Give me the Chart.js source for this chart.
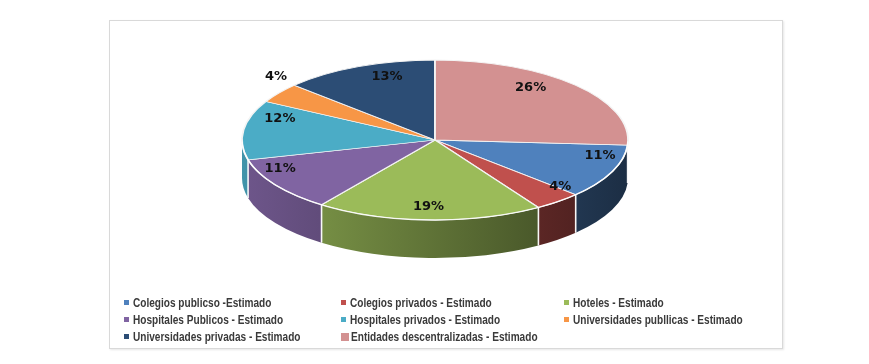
<!DOCTYPE html>
<html><head><meta charset="utf-8">
<script src="https://cdn.jsdelivr.net/npm/chart.js@4"></script>
<style>
html,body{margin:0;padding:0;background:#fff;width:869px;height:364px;overflow:hidden}
#frame{position:absolute;left:109px;top:20px;width:672px;height:327px;border:1px solid #d9d9d9;box-shadow:1px 1px 2px rgba(0,0,0,0.10);background:#fff}
#c{position:absolute;left:0;top:0}
#legend{position:absolute;left:0;top:0;font-family:"Liberation Sans",Arial,sans-serif;font-weight:bold;font-size:12px;color:#3a3a3a}
.item{position:absolute;white-space:nowrap;line-height:14px;height:14px}
.mk{display:inline-block;width:5px;height:5px;margin-right:4px;vertical-align:2px}
.mk.big{width:8px;height:8px;margin-right:2px;vertical-align:0px}
.tx{display:inline-block;transform:scaleX(0.84);transform-origin:0 50%}
</style></head>
<body>
<div id="frame"></div>
<canvas id="c" width="869" height="364"></canvas>
<div id="legend"></div>
<script>
// ---- data ----
const categories = [
  "Colegios publicso -Estimado",
  "Colegios privados - Estimado",
  "Hoteles - Estimado",
  "Hospitales Publicos - Estimado",
  "Hospitales privados - Estimado",
  "Universidades publlicas - Estimado",
  "Universidades privadas - Estimado",
  "Entidades descentralizadas - Estimado"
];
const percentages = [11, 4, 19, 11, 12, 4, 13, 26];
const colors = ["#4f81bd", "#c0504d", "#9bbb59", "#8064a2", "#4bacc6", "#f79646", "#2c4d75", "#d39191"];

// ---- geometry / style ----
const geom = {cx: 435, cy: 140, rx: 193, ry: 80, depth: 38};

function shade(hex, f) {
  const n = parseInt(hex.slice(1), 16);
  const r = Math.round(((n >> 16) & 255) * f), g = Math.round(((n >> 8) & 255) * f), b = Math.round((n & 255) * f);
  return `rgb(${r},${g},${b})`;
}
function norm(a) { const t = 2 * Math.PI; return ((a % t) + t) % t; }

const pie3d = {
  id: 'pie3d',
  beforeDatasetsDraw(chart) {
    const ctx = chart.ctx;
    const arcs = chart.getDatasetMeta(0).data;
    const {cx, cy, rx, ry, depth} = geom;
    // sides (front half only)
    arcs.forEach((arc, i) => {
      const a = norm(arc.startAngle), b = a + (arc.endAngle - arc.startAngle);
      for (const off of [0, 2 * Math.PI]) {
        const s = Math.max(a, off), e = Math.min(b, off + Math.PI);
        if (e > s) {
          const g = ctx.createLinearGradient(cx - rx, 0, cx + rx, 0);
          g.addColorStop(0, shade(colors[i], 0.86));
          g.addColorStop(1, shade(colors[i], 0.36));
          ctx.beginPath();
          ctx.ellipse(cx, cy, rx, ry, 0, s, e, false);
          ctx.ellipse(cx, cy + depth, rx, ry, 0, e, s, true);
          ctx.closePath();
          ctx.fillStyle = g;
          ctx.fill();
        }
      }
    });
    // boundary lines on the side
    ctx.save();
    ctx.strokeStyle = 'rgba(255,255,255,0.95)';
    ctx.lineWidth = 1.6;
    arcs.forEach(arc => {
      const a = norm(arc.startAngle);
      if (a > 0.02 && a < Math.PI - 0.02) {
        const x = cx + rx * Math.cos(a), y = cy + ry * Math.sin(a);
        ctx.beginPath(); ctx.moveTo(x, y); ctx.lineTo(x, y + depth); ctx.stroke();
      }
    });
    ctx.restore();
    // transform for the top face drawn by Chart.js
    const R = arcs[0].outerRadius, pcx = arcs[0].x, pcy = arcs[0].y;
    ctx.save();
    ctx.translate(cx, cy);
    ctx.scale(rx / R, ry / R);
    ctx.translate(-pcx, -pcy);
  },
  afterDatasetsDraw(chart) {
    const ctx = chart.ctx;
    ctx.restore();
    const {cx, cy, rx, ry} = geom;
    // light rim along the front edge of the top face
    ctx.save();
    ctx.strokeStyle = 'rgba(255,255,255,0.85)';
    ctx.lineWidth = 1.3;
    ctx.beginPath();
    ctx.ellipse(cx, cy, rx, ry, 0, 0.02, Math.PI - 0.02, false);
    ctx.stroke();
    ctx.restore();
    const arcs = chart.getDatasetMeta(0).data;
    ctx.save();
    ctx.font = 'bold 13px "DejaVu Sans", sans-serif';
    ctx.fillStyle = '#111';
    ctx.textAlign = 'center';
    ctx.textBaseline = 'middle';
    arcs.forEach((arc, i) => {
      const m = (arc.startAngle + arc.endAngle) / 2;
      const s = Math.sin(m), c = Math.cos(m);
      const outside = percentages[i] < 5 && s < 0;
      const f = outside ? 1.45 : 1;
      const h = 162 + 45 * s;
      const x = cx + f * h * c;
      const y = 126.7 + f * (66.7 * s + 13.6 * s * s);
      ctx.fillText(percentages[i] + '%', x, y);
    });
    ctx.restore();
  }
};

new Chart(document.getElementById('c'), {
  type: 'pie',
  data: {
    labels: categories,
    datasets: [{
      data: percentages,
      backgroundColor: colors,
      borderColor: '#f4f4f4',
      borderWidth: 1.6
    }]
  },
  options: {
    responsive: false,
    animation: false,
    rotation: 93.6,
    layout: {padding: 12},
    plugins: {legend: {display: false}, tooltip: {enabled: false}}
  },
  plugins: [pie3d]
});

// legend
const colX = [124, 341, 564];
const rowY = [296, 313, 330];
const leg = document.getElementById('legend');
categories.forEach((name, i) => {
  const d = document.createElement('div');
  d.className = 'item';
  d.style.left = colX[i % 3] + 'px';
  d.style.top = rowY[Math.floor(i / 3)] + 'px';
  const mk = document.createElement('span');
  mk.className = 'mk' + (i === categories.length - 1 ? ' big' : '');
  mk.style.background = colors[i];
  d.appendChild(mk);
  const tx = document.createElement('span');
  tx.className = 'tx';
  tx.textContent = name;
  d.appendChild(tx);
  leg.appendChild(d);
});
</script>
</body></html>
